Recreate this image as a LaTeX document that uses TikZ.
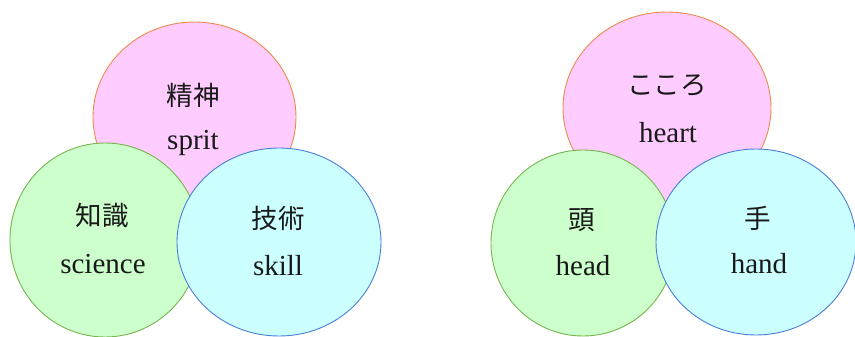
\documentclass[tikz,border=0pt]{standalone}
\usepackage{fontspec}
\setmainfont{Liberation Serif}
\newfontfamily\jp{Noto Sans CJK JP}
\usetikzlibrary{shapes.geometric}
\definecolor{pinkfill}{HTML}{FFCCFF}
\definecolor{pinkline}{HTML}{F08A4B}
\definecolor{greenfill}{HTML}{CCFFCC}
\definecolor{greenline}{HTML}{77B550}
\definecolor{cyanfill}{HTML}{CCFFFF}
\definecolor{cyanline}{HTML}{4A7FD6}
\tikzset{
  blob/.style={ellipse, inner sep=0pt, line width=0.9pt},
  pinkblob/.style={blob, draw=pinkline, fill=pinkfill},
  greenblob/.style={blob, draw=greenline, fill=greenfill},
  cyanblob/.style={blob, draw=cyanline, fill=cyanfill},
  jlabel/.style={inner sep=0pt, font=\jp\fontsize{26.5}{30}\selectfont, text=black!90},
  elabel/.style={inner sep=0pt, font=\fontsize{29}{33}\selectfont, text=black!90},
}
\begin{document}
\begin{tikzpicture}[x=1pt,y=-1pt]
\useasboundingbox (0,0) rectangle (855,337);
% left group
\node[pinkblob, minimum width=203pt, minimum height=190pt] (sp) at (194.5,117) {};
\node[greenblob, minimum width=190pt, minimum height=194pt] (sc) at (105,240) {};
\node[cyanblob, minimum width=204pt, minimum height=188pt] (sk) at (279,242) {};
\node[jlabel] (spj) at (193,95) {精神};
\node[elabel] (spe) at (193,143) {sprit};
\node[jlabel] (scj) at (102,215) {知識};
\node[elabel] (sce) at (103,264) {science};
\node[jlabel] (skj) at (278,218) {技術};
\node[elabel] (ske) at (278,266) {skill};
% right group
\node[pinkblob, minimum width=208pt, minimum height=192pt] (he) at (667,108) {};
\node[greenblob, minimum width=184pt, minimum height=186pt] (hd) at (583,243) {};
\node[cyanblob, minimum width=200pt, minimum height=186pt] (hn) at (756,242) {};
\node[jlabel] (hej) at (667,86) {こころ};
\node[elabel] (hee) at (668,133) {heart};
\node[jlabel] (hdj) at (582,220) {頭};
\node[elabel] (hde) at (583,266) {head};
\node[jlabel] (hnj) at (758,218) {手};
\node[elabel] (hne) at (759,264) {hand};
\end{tikzpicture}
\end{document}
